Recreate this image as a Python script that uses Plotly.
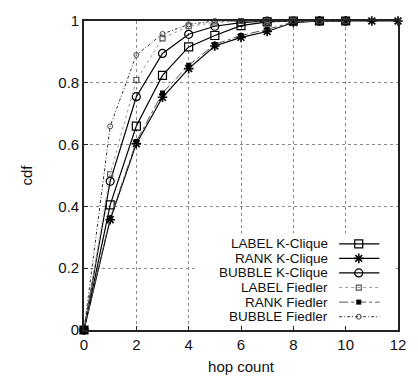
import plotly.graph_objects as go

hops_short = [0, 1, 2, 3, 4, 5, 6, 7, 8, 9, 10]
hops_long = [0, 1, 2, 3, 4, 5, 6, 7, 8, 9, 10, 11, 12]

label_kclique = [0, 0.405, 0.660, 0.824, 0.916, 0.953, 0.985, 0.997, 1, 1, 1]
rank_kclique = [0, 0.357, 0.603, 0.753, 0.846, 0.919, 0.947, 0.966, 0.995, 1, 1, 1, 1]
bubble_kclique = [0, 0.481, 0.755, 0.895, 0.957, 0.983, 0.995, 1, 1, 1, 1]
label_fiedler = [0, 0.504, 0.809, 0.944, 0.983, 0.995, 1, 1, 1, 1, 1]
rank_fiedler = [0, 0.362, 0.610, 0.767, 0.857, 0.924, 0.953, 0.973, 0.997, 1, 1]
bubble_fiedler = [0, 0.659, 0.890, 0.958, 0.989, 1, 1, 1, 1, 1, 1]

names = ["LABEL K-Clique", "RANK K-Clique", "BUBBLE K-Clique",
         "LABEL Fiedler", "RANK Fiedler", "BUBBLE Fiedler"]

series = [
    (hops_short, label_kclique, dict(color="black", width=1.2, dash="solid"),
     dict(symbol="square-open", size=8, color="black", line=dict(width=1.2, color="black"))),
    (hops_long, rank_kclique, dict(color="black", width=1.2, dash="solid"),
     dict(symbol="asterisk-open", size=8, color="black", line=dict(width=1.6, color="black"))),
    (hops_short, bubble_kclique, dict(color="black", width=1.2, dash="solid"),
     dict(symbol="circle-open", size=8, color="black", line=dict(width=1.2, color="black"))),
    (hops_short, label_fiedler, dict(color="#999999", width=1, dash="dot"),
     dict(symbol="square-open", size=5, color="#555555", line=dict(width=1.2, color="#555555"))),
    (hops_short, rank_fiedler, dict(color="#555555", width=1, dash="dashdot"),
     dict(symbol="square", size=5, color="black", line=dict(width=0))),
    (hops_short, bubble_fiedler, dict(color="#333333", width=1, dash="3px,2px,1px,2px"),
     dict(symbol="circle-open", size=5, color="#444444", line=dict(width=1, color="#444444"))),
]

fig = go.Figure()
for name, (xs, ys, ln, mk) in zip(names, series):
    fig.add_trace(go.Scatter(x=xs, y=ys, mode="lines+markers", name=name,
                             line=ln, marker=mk, showlegend=False, cliponaxis=False))

# marker on origin drawn bigger in the reference (overlapping points)
fig.add_trace(go.Scatter(x=hops_short[:1], y=rank_fiedler[:1], mode="markers",
                         marker=dict(symbol="square", size=8, color="black"),
                         showlegend=False, hoverinfo="skip", cliponaxis=False))

# manual legend (text left, sample right), gnuplot style
leg_font = dict(family="Liberation Sans, Arial, sans-serif", size=13.5, color="#111111")
top_y = 0.279
step = 0.0472
fig.add_shape(type="rect", xref="x", yref="y", x0=4.27, x1=11.85, y0=0.018, y1=0.3135,
              fillcolor="white", line=dict(width=0), layer="between")
for i, (name, (xs, ys, ln, mk)) in enumerate(zip(names, series)):
    yy = top_y - i * step
    fig.add_annotation(x=9.375, y=yy, xref="x", yref="y", text=name, showarrow=False,
                       xanchor="right", yanchor="middle", font=leg_font, borderpad=0)
    fig.add_trace(go.Scatter(x=[9.75, 11.29], y=[yy, yy], mode="lines", line=ln,
                             showlegend=False, hoverinfo="skip"))
    fig.add_trace(go.Scatter(x=[10.5], y=[yy], mode="markers", marker=mk,
                             showlegend=False, hoverinfo="skip"))

tick_font = dict(family="Liberation Sans, Arial, sans-serif", size=15, color="#111111")
fig.update_layout(
    width=418, height=385,
    margin=dict(l=84, r=14, t=17, b=47),
    paper_bgcolor="white", plot_bgcolor="white",
    font=dict(family="Liberation Sans, Arial, sans-serif", color="#111111"),
    xaxis=dict(range=[0, 12], tickvals=[0, 2, 4, 6, 8, 10, 12], showgrid=True,
               gridcolor="#888888", griddash="dot", gridwidth=1,
               showline=True, linecolor="#222222", linewidth=1.6, mirror=True,
               ticks="inside", ticklen=4, tickcolor="#222222", zeroline=False,
               tickfont=tick_font,
               title=dict(text="hop count", font=dict(size=15), standoff=10)),
    yaxis=dict(range=[0, 1], tickvals=[0, 0.2, 0.4, 0.6, 0.8, 1],
               ticktext=["0", "0.2", "0.4", "0.6", "0.8", "1"], showgrid=True,
               gridcolor="#888888", griddash="dot", gridwidth=1,
               showline=True, linecolor="#222222", linewidth=1.6, mirror=True,
               ticks="inside", ticklen=4, tickcolor="#222222", zeroline=False,
               tickfont=tick_font,
               title=dict(text="cdf", font=dict(size=15), standoff=22)),
)

fig.write_html("out.html")
